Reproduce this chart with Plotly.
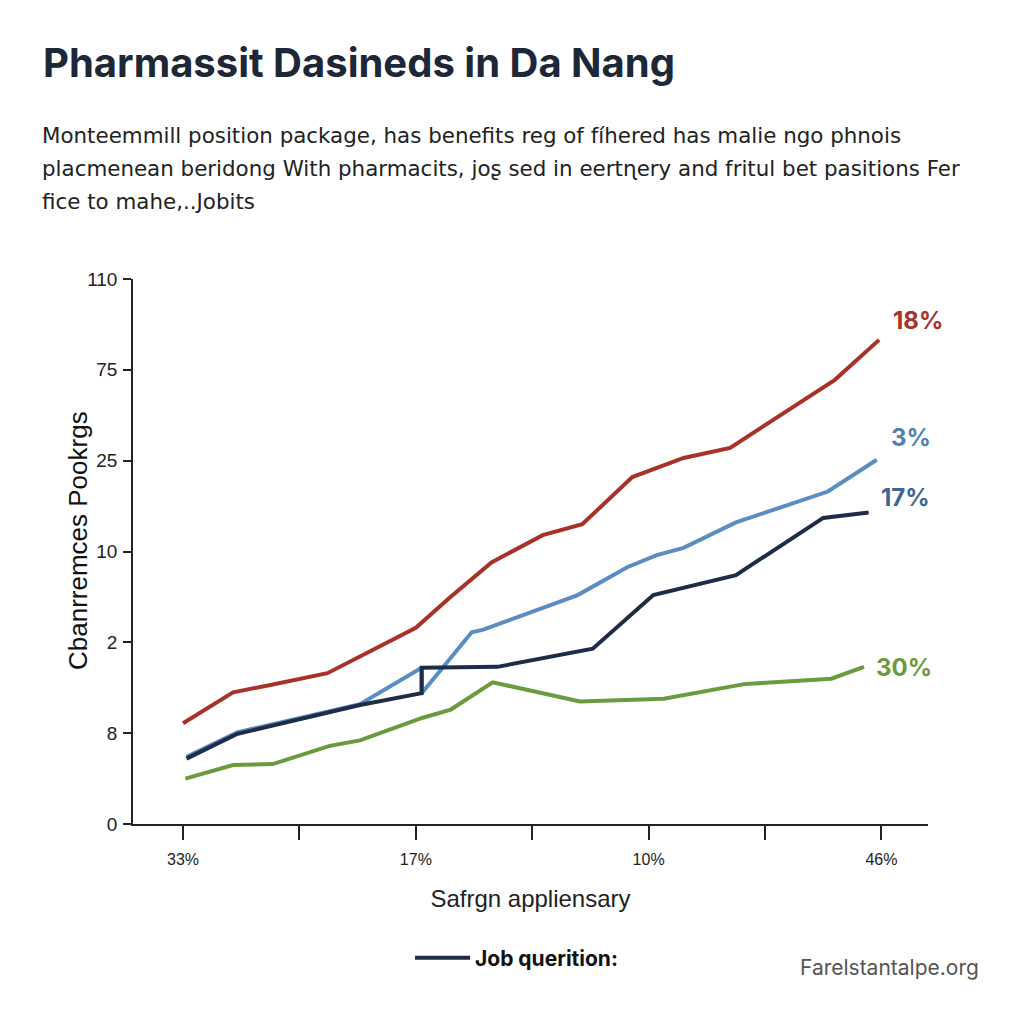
import plotly.graph_objects as go

# ---- data ----
x_tick_positions = [0, 1, 2, 3, 4, 5, 6]
x_tick_labels = ["33%", "", "17%", "", "10%", "", "46%"]
y_tick_positions = [0, 1, 2, 3, 4, 5, 6]
y_tick_labels = ["0", "8", "2", "10", "25", "75", "110"]

red_x = [0.00, 0.43, 0.75, 1.24, 2.00, 2.29, 2.65, 3.09, 3.43, 3.86, 4.30, 4.70, 5.60, 5.98]
red_y = [1.11, 1.45, 1.53, 1.66, 2.16, 2.49, 2.88, 3.18, 3.30, 3.82, 4.03, 4.14, 4.89, 5.33]

blue_x = [0.03, 0.47, 1.52, 2.05, 2.05, 2.48, 2.58, 3.39, 3.82, 4.07, 4.30, 4.75, 5.54, 5.96]
blue_y = [0.74, 1.01, 1.32, 1.72, 1.44, 2.11, 2.14, 2.52, 2.83, 2.96, 3.04, 3.32, 3.66, 4.01]

navy_x = [0.03, 0.46, 1.52, 2.05, 2.05, 2.70, 3.52, 4.04, 4.75, 5.50, 5.89]
navy_y = [0.72, 0.99, 1.31, 1.44, 1.72, 1.73, 1.93, 2.52, 2.74, 3.37, 3.43]

green_x = [0.02, 0.43, 0.77, 1.26, 1.52, 2.06, 2.30, 2.66, 3.41, 4.13, 4.82, 5.57, 5.85]
green_y = [0.50, 0.65, 0.66, 0.86, 0.92, 1.17, 1.26, 1.56, 1.35, 1.38, 1.54, 1.60, 1.73]

end_labels = ["18%", "3%", "17%", "30%"]
end_label_x = [6.31, 6.25, 6.21, 6.19]
end_label_y = [5.54, 4.26, 3.60, 1.72]

RED = "#a83229"
BLUE = "#5b8cc2"
NAVY = "#1f2c47"
GREEN = "#6b9a3f"
label_colors = [RED, "#4f7fb3", "#3f6690", GREEN]

title_text = "Pharmassit Dasineds in Da Nang"
subtitle_lines = [
    "Monteemmill position package, has benefits reg of fíhered has malie ngo phnois",
    "placmenean beridong With pharmacits, jo\u0282 sed in eert\u0273ery and fritul bet pasitions Fer",
    "fice to mahe,..Jobits",
]
x_title = "Safrgn appliensary"
y_title = "Cbanrremces Pookrgs"
legend_name = "Job querition:"
watermark = "Farelstantalpe.org"

# ---- layout geometry (page pixels; the page body adds an 8px offset) ----
OFF = 8
W, H = 1024, 1024
PLOT_L, PLOT_R, PLOT_T, PLOT_B = 133, 928, 279, 824
L = PLOT_L - OFF
R = W - (PLOT_R - OFF)
T = PLOT_T - OFF
B = H - (PLOT_B - OFF)
pw, ph = W - L - R, H - T - B


def px_x(p):
    return (p - OFF - L) / pw


def px_y(p):
    return (H - B - (p - OFF)) / ph


fig = go.Figure()

fig.add_trace(go.Scatter(x=green_x, y=green_y, mode="lines",
                         line=dict(color=GREEN, width=4), showlegend=False))
fig.add_trace(go.Scatter(x=red_x, y=red_y, mode="lines",
                         line=dict(color=RED, width=4), showlegend=False))
fig.add_trace(go.Scatter(x=blue_x, y=blue_y, mode="lines",
                         line=dict(color=BLUE, width=4), showlegend=False))
fig.add_trace(go.Scatter(x=navy_x, y=navy_y, mode="lines",
                         line=dict(color=NAVY, width=4),
                         name="<b>" + legend_name + "</b>", showlegend=True))

for t, lx, ly, c in zip(end_labels, end_label_x, end_label_y, label_colors):
    fig.add_annotation(x=lx, y=ly, xref="x", yref="y", text="<b>" + t + "</b>",
                       showarrow=False, font=dict(size=24, color=c, family="Inter"))

fig.add_annotation(x=px_x(41), y=px_y(62), xref="paper", yref="paper",
                   text="<b>" + title_text + "</b>", showarrow=False,
                   xanchor="left", yanchor="middle",
                   font=dict(size=40, color="#1c2738", family="Inter"))

for i, line in enumerate(subtitle_lines):
    fig.add_annotation(x=px_x(40), y=px_y(136 + 32.5 * i), xref="paper", yref="paper",
                       text=line, showarrow=False, xanchor="left", yanchor="middle",
                       align="left",
                       font=dict(size=21.4, color="#222222", family="DejaVu Sans"))

# y-axis title placed as rotated text
fig.add_annotation(x=px_x(78), y=px_y(541), xref="paper", yref="paper",
                   text=y_title, textangle=-90, showarrow=False,
                   xanchor="center", yanchor="middle",
                   font=dict(size=26, color="#111111", family="Liberation Sans"))

fig.add_annotation(x=px_x(981), y=px_y(967), xref="paper", yref="paper",
                   text=watermark, showarrow=False, xanchor="right", yanchor="middle",
                   font=dict(size=21, color="#555555", family="Inter"))

fig.update_layout(
    width=W, height=H,
    margin=dict(l=L, r=R, t=T, b=B, autoexpand=False),
    paper_bgcolor="white", plot_bgcolor="white",
    font=dict(family="Liberation Sans", color="#222222"),
    xaxis=dict(range=[-0.43, 6.4], tickmode="array", tickvals=x_tick_positions,
               ticktext=x_tick_labels, ticks="outside", ticklen=14, tickwidth=1.5,
               tickcolor="#222222", showline=True, linecolor="#222222", linewidth=1.5,
               showgrid=False, zeroline=False, tickfont=dict(size=16, color="#222222"),
               ticklabelstandoff=6,
               title=dict(text=x_title, font=dict(size=24, color="#222222"), standoff=23)),
    yaxis=dict(range=[0, 6.0], tickmode="array", tickvals=y_tick_positions,
               ticktext=y_tick_labels, ticks="outside", ticklen=8, tickwidth=1.5,
               tickcolor="#222222", showline=True, linecolor="#222222", linewidth=1.5,
               showgrid=False, zeroline=False, tickfont=dict(size=19, color="#222222"),
               ticklabelstandoff=2),
    legend=dict(orientation="h", x=px_x(410), y=px_y(958), xanchor="left", yanchor="middle",
                font=dict(size=21, color="#111111", family="Inter"),
                itemwidth=55, bgcolor="rgba(0,0,0,0)"),
)

fig.write_html("out.html")
